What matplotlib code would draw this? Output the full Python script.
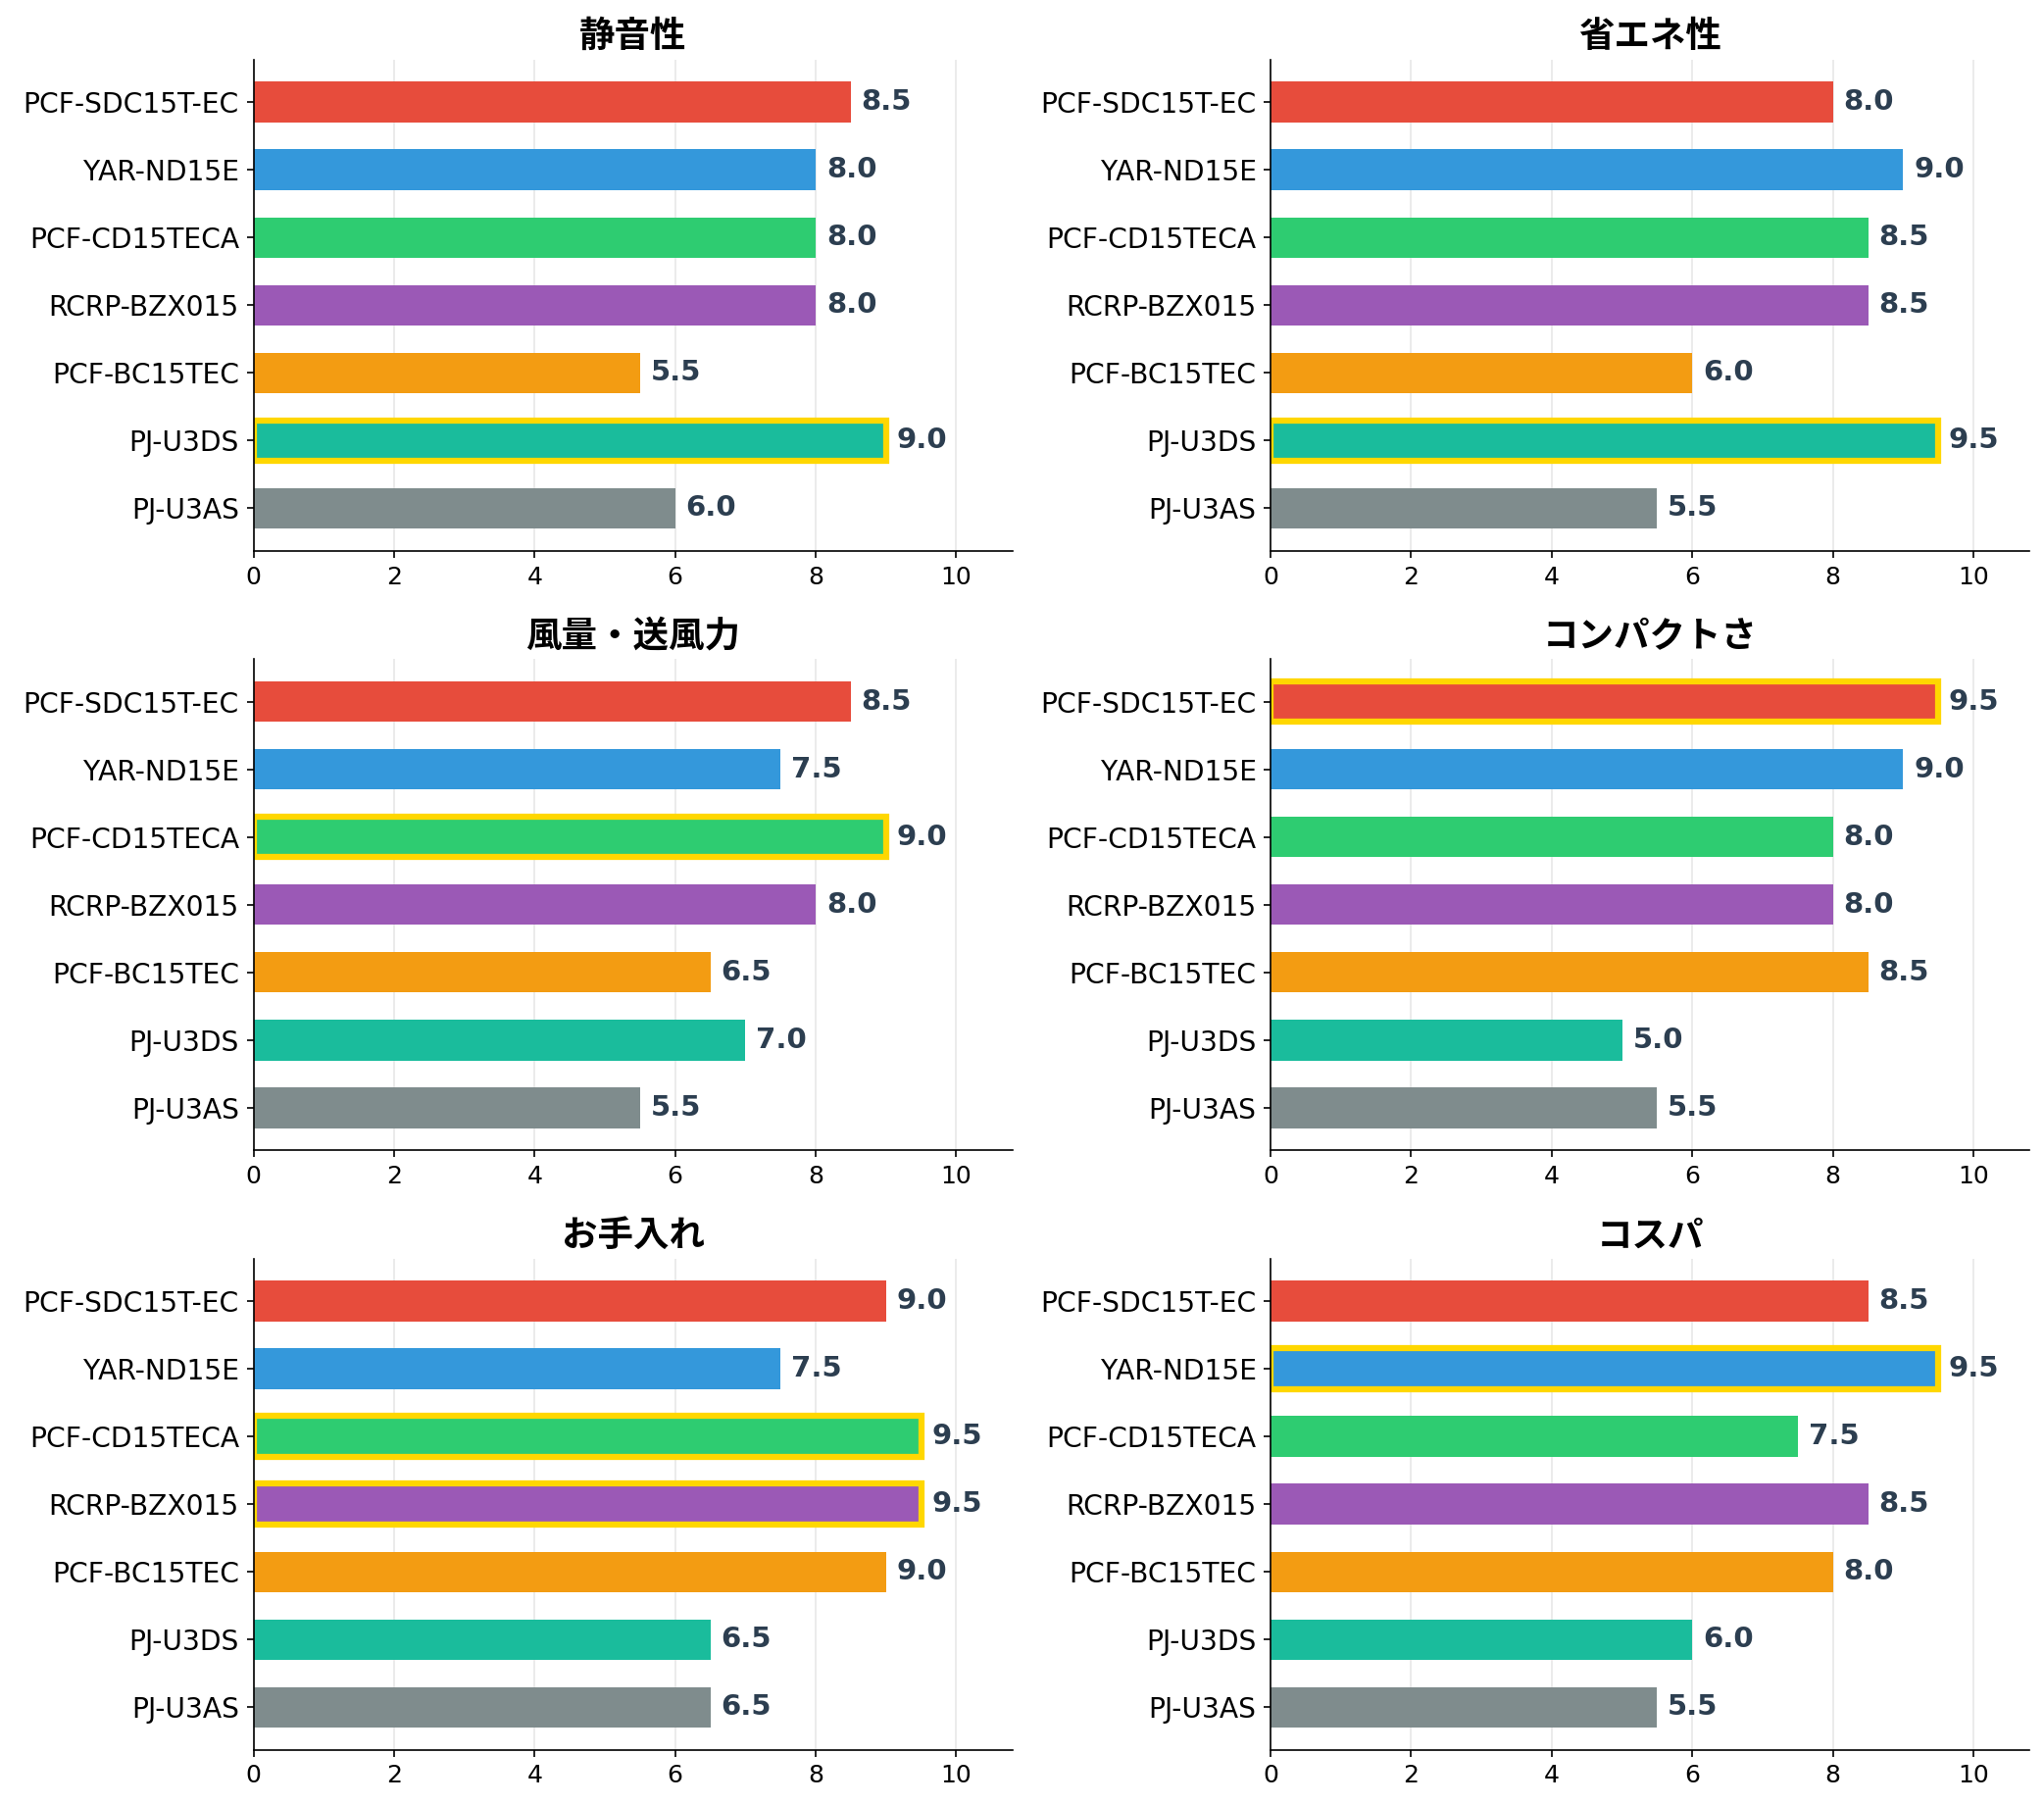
import matplotlib
matplotlib.use("Agg")
import matplotlib.pyplot as plt

# latin in DejaVu (wide, like the original), kana/kanji fall back to Noto CJK
plt.rcParams['font.family'] = ['DejaVu Sans', 'Noto Sans CJK JP']

# --- Data ---
models = ["PCF-SDC15T-EC", "YAR-ND15E", "PCF-CD15TECA", "RCRP-BZX015",
          "PCF-BC15TEC", "PJ-U3DS", "PJ-U3AS"]
colors = ["#e74c3c", "#3498db", "#2ecc71", "#9b59b6", "#f39c12", "#1abc9c", "#7f8c8d"]

titles = ["静音性", "省エネ性", "風量・送風力", "コンパクトさ", "お手入れ", "コスパ"]
quiet = [8.5, 8.0, 8.0, 8.0, 5.5, 9.0, 6.0]
energy = [8.0, 9.0, 8.5, 8.5, 6.0, 9.5, 5.5]
airflow = [8.5, 7.5, 9.0, 8.0, 6.5, 7.0, 5.5]
compact = [9.5, 9.0, 8.0, 8.0, 8.5, 5.0, 5.5]
care = [9.0, 7.5, 9.5, 9.5, 9.0, 6.5, 6.5]
cost = [8.5, 9.5, 7.5, 8.5, 8.0, 6.0, 5.5]
scores = [quiet, energy, airflow, compact, care, cost]

fig, axes = plt.subplots(3, 2, figsize=(13.9, 12.267), dpi=150)
fig.subplots_adjust(left=0.124, right=0.993, top=0.967, bottom=0.03,
                    wspace=0.34, hspace=0.22)

for ax, title, vals in zip(axes.flat, titles, scores):
    y = list(range(len(models)))
    bars = ax.barh(y, vals, height=0.6, color=colors)
    top = max(vals)
    for bar, v in zip(bars, vals):
        if v == top:
            bar.set_edgecolor("#FFD700")
            bar.set_linewidth(3)
        ax.text(v + 0.15, bar.get_y() + bar.get_height() / 2, f"{v:.1f}",
                va="center", ha="left", fontsize=14, fontweight="bold",
                color="#2c3e50")
    ax.set_yticks(y)
    ax.set_yticklabels(models, fontsize=13.5)
    ax.invert_yaxis()
    ax.set_xlim(0, 10.8)
    ax.set_xticks([0, 2, 4, 6, 8, 10])
    ax.tick_params(axis="x", labelsize=12)
    ax.set_title(title, fontsize=17.5, fontweight="bold", family=['Noto Sans CJK JP'])
    ax.grid(axis="x", alpha=0.3)
    ax.set_axisbelow(True)
    ax.spines["top"].set_visible(False)
    ax.spines["right"].set_visible(False)

plt.savefig("out.png", dpi=150)
